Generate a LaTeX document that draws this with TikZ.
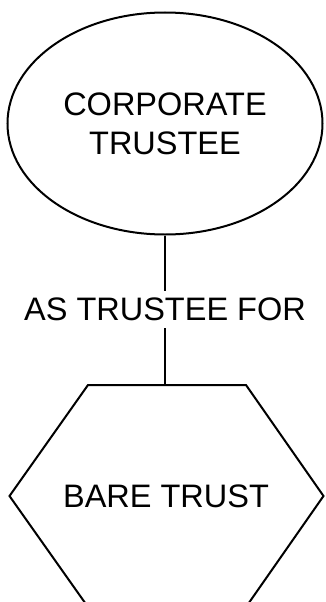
\documentclass[tikz,border=0pt]{standalone}
\usepackage{fontspec}
\setmainfont{Liberation Sans}
\usepackage{tikz}
\usetikzlibrary{shapes.geometric,positioning,calc}

\begin{document}
\begin{tikzpicture}[
  x=1pt, y=-1pt,
  ent/.style={draw, line width=2pt, ellipse, inner sep=0pt, minimum width=315pt, minimum height=222pt, align=center, font=\fontsize{32.5}{39}\selectfont},
  rel/.style={inner sep=7pt, font=\fontsize{32.5}{39}\selectfont},
  trustlbl/.style={inner sep=0pt, font=\fontsize{32.5}{39}\selectfont},
  conn/.style={line width=2pt},
  hexline/.style={line width=2pt, line join=miter}
]
\useasboundingbox (0,0) rectangle (326,602);

\node[ent] at (165,123.5) (corp) {CORPORATE\\TRUSTEE};

\node[rel] at (165,309.5) (astrustee) {AS TRUSTEE FOR};

% hexagon for the trust
\node[trustlbl] at (166,496) (trust) {BARE TRUST};
\coordinate (hextop) at (165,385);
\draw[hexline] (88,385) -- (246,385) -- (323.5,496) -- (246,607) -- (88,607) -- (9.5,496) -- cycle;

\draw[conn] (corp.south) -- (astrustee.north);
\draw[conn] (astrustee.south) -- (hextop);

\end{tikzpicture}
\end{document}
